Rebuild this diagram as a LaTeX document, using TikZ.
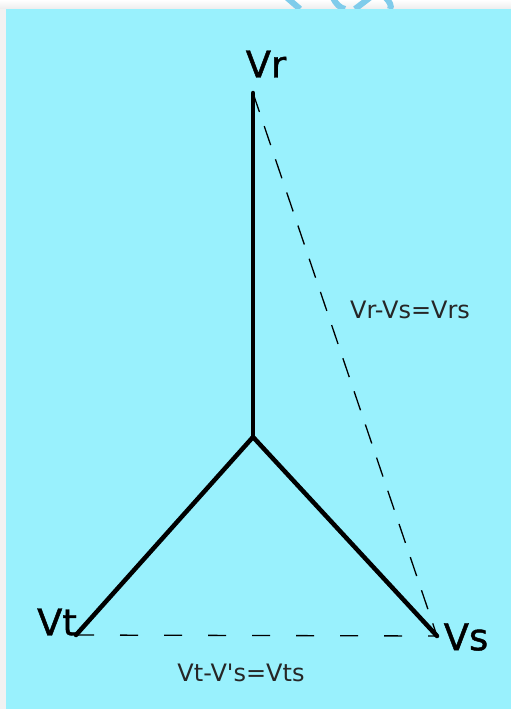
\documentclass[tikz,border=0pt]{standalone}
\usepackage{fontspec}
\setmainfont{DejaVu Sans}
\newfontfamily\labelfont[FakeBold=1.2]{DejaVu Sans}
\begin{document}
\begin{tikzpicture}[x=1pt,y=-1pt,
  phase/.style={line width=4.5pt,line cap=round,line join=round},
  diffline/.style={line width=1.3pt,dash pattern=on 18pt off 26pt},
  slantline/.style={line width=1.3pt,dash pattern=on 20pt off 15pt},
  biglabel/.style={font=\labelfont\fontsize{37}{37}\selectfont,inner sep=0pt},
  smalllabel/.style={font=\fontsize{24}{24}\selectfont,inner sep=0pt,text=black!85}]
\definecolor{bgcyan}{HTML}{99F1FD}
\definecolor{logoblue}{HTML}{7FCCEB}
\useasboundingbox (0,0) rectangle (511,709);
\shade[top color=white,bottom color=black!7] (0,0) rectangle (511,9);
\fill[black!5] (0,9) rectangle (6,709);
\begin{scope}
\clip (0,0) rectangle (511,9);
\draw[logoblue,line width=6pt] (285,-4) -- (300,9);
\draw[logoblue,line width=6pt] (333,-2) .. controls (336,4) and (340,8) .. (345,9);
\draw[logoblue,line width=6pt] (355,9) -- (372,-4);
\draw[logoblue,line width=6pt] (385,-3) .. controls (390,2) and (392,6) .. (390,9);
\end{scope}
\fill[bgcyan] (6,9) rectangle (511,709);
\coordinate (c) at (253,437);
\coordinate (r) at (253,93);
\coordinate (t) at (76,635);
\coordinate (s) at (437,636);
\draw[phase] (r) -- (c);
\draw[phase] (c) -- (t);
\draw[phase] (c) -- (s);
\draw[slantline] (r) -- (s);
\draw[diffline] (t) -- (s);
\node[biglabel] (lr) at (266,64) {Vr};
\node[biglabel] (lt) at (57,622) {Vt};
\node[biglabel] (ls) at (466,637) {Vs};
\node[smalllabel] (lrs) at (410,310) {Vr-Vs=Vrs};
\node[smalllabel] (lts) at (241,673) {Vt-V\textquotesingle s=Vts};
\end{tikzpicture}
\end{document}
